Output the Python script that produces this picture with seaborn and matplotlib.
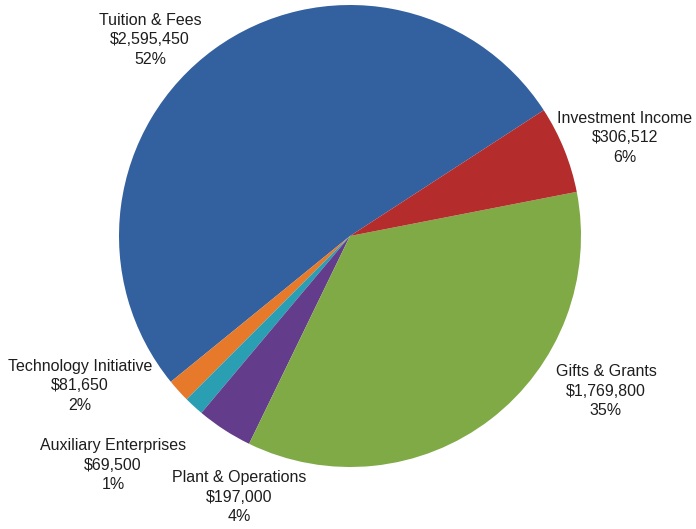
import matplotlib
matplotlib.use("Agg")
import matplotlib.pyplot as plt
import seaborn as sns

# Data (revenue sources), in drawing order counterclockwise from upper right
categories = ["Tuition & Fees", "Technology Initiative", "Auxiliary Enterprises",
              "Plant & Operations", "Gifts & Grants", "Investment Income"]
amounts = [2595450, 81650, 69500, 197000, 1769800, 306512]
amount_labels = ["$2,595,450", "$81,650", "$69,500", "$197,000", "$1,769,800", "$306,512"]
pct_labels = ["52%", "2%", "1%", "4%", "35%", "6%"]

colors = sns.color_palette(["#33609f", "#e6792a", "#2a9fb3", "#633d8b", "#80aa46", "#b52c2c"])

sns.set_theme(style="white")
plt.rcParams["font.family"] = ["Liberation Sans", "DejaVu Sans"]

fig = plt.figure(figsize=(6.96, 5.29), dpi=100)
ax = fig.add_axes([0, 0, 1, 1])
W, H = 696, 529

ax.pie(amounts, colors=colors, startangle=33, counterclock=True,
       center=(350, H - 236), radius=231, frame=True,
       wedgeprops=dict(linewidth=0))

# label centres in pixel coords (x, y from top)
label_pos = [(150, 40), (80, 386), (113, 465), (239, 497), (606, 391), (625, 138)]
for name, amt, pct, (x, y) in zip(categories, amount_labels, pct_labels, label_pos):
    ax.text(x, H - y, f"{name}\n{amt}\n{pct}", ha="center", va="center",
            fontsize=11.5, color="#1e1e1e", linespacing=1.38)

ax.set_xlim(0, W)
ax.set_ylim(0, H)
ax.set_aspect("equal")
ax.axis("off")

fig.savefig("out.png", dpi=100)
plt.close(fig)
